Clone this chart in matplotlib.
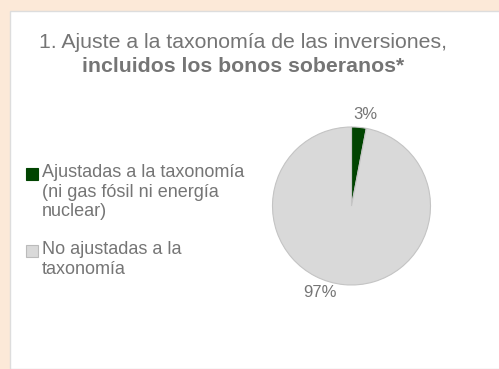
import matplotlib.pyplot as plt
from matplotlib.patches import Rectangle

plt.rcParams['font.family'] = ['Liberation Sans', 'DejaVu Sans']

W, H = 499, 369
labels = ['Ajustadas a la taxonomía\n(ni gas fósil ni energía\nnuclear)',
          'No ajustadas a la\ntaxonomía']
values = [3, 97]
colors = ['#014401', '#D9D9D9']
title_1 = '1. Ajuste a la taxonomía de las inversiones,'
title_2 = 'incluidos los bonos soberanos*'
text_col = '#757575'

fig = plt.figure(figsize=(W / 100, H / 100), dpi=100)
fig.patch.set_facecolor('#FCE9D8')

# white panel (behind everything)
panel = Rectangle((10 / W, 0), 1, 1 - 11 / H, transform=fig.transFigure,
                  facecolor='white', edgecolor='#DDDDDD', linewidth=1, zorder=-5)
fig.patches.append(panel)

fig.text(243 / W, 1 - 42 / H, title_1, ha='center', va='center',
         fontsize=15.3, color=text_col)
fig.text(243 / W, 1 - 67 / H, title_2, ha='center', va='center',
         fontsize=15.3, color=text_col, fontweight='bold')

# pie
cx, cy, r = 351.5, 206, 79
ax = fig.add_axes([(cx - r) / W, 1 - (cy + r) / H, 2 * r / W, 2 * r / H])
ax.set_zorder(2)
ax.patch.set_visible(False)
wedges, _ = ax.pie(values, colors=colors, startangle=90, counterclock=False,
                   radius=1, wedgeprops=dict(edgecolor='#C4C4C4', linewidth=0.8))
ax.set_xlim(-1, 1)
ax.set_ylim(-1, 1)
ax.set_aspect('auto')

# percentage labels
pos = [(0.17, 1.16), (-0.40, -1.09)]
for v, (x, y) in zip(values, pos):
    ax.text(x, y, f'{v}%', ha='center', va='center', fontsize=12,
            color=text_col, clip_on=False)

# legend
leg_y = [174, 251]
for lab, c, y in zip(labels, colors, leg_y):
    fig.patches.append(Rectangle((26 / W, 1 - (y + 6) / H), 12 / W, 12 / H,
                                 transform=fig.transFigure, facecolor=c,
                                 edgecolor='#BBBBBB' if c == '#D9D9D9' else c,
                                 linewidth=0.8))
    fig.text(42 / W, 1 - (y - 10) / H, lab, ha='left', va='top', fontsize=13,
             color=text_col, linespacing=1.2)

fig.savefig('out.png', dpi=100, facecolor=fig.get_facecolor())
